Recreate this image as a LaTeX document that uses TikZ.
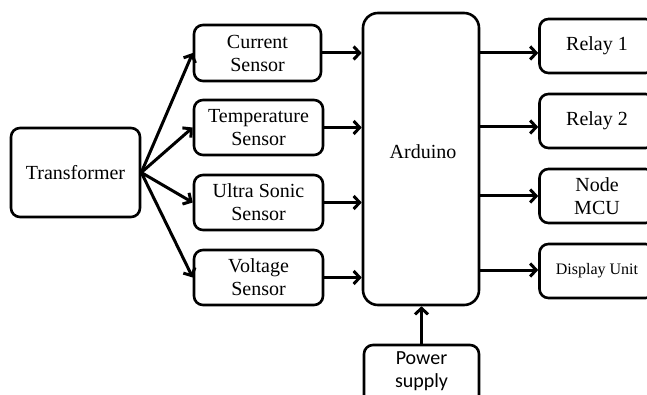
\documentclass[tikz,border=0pt]{standalone}
\usepackage{fontspec}
\setmainfont{Liberation Serif}
\newfontfamily\psfont{Carlito}
\usetikzlibrary{arrows.meta,calc}
\begin{document}
\begin{tikzpicture}[x=1pt,y=-1pt,
  box/.style={draw, line width=2.6pt, rounded corners=9pt, align=center, inner sep=0pt,
    font=\fontsize{20}{23}\selectfont},
  arr/.style={line width=3pt, -{Straight Barb[length=6pt,width=13pt]}}]
\useasboundingbox (0,0) rectangle (647,395);
\clip (0,0) rectangle (647,395);
\fill[white] (0,0) rectangle (647,395);
% boxes
\node[box, minimum width=129, minimum height=89] (tr) at (75.5,172.5) {Transformer};
\node[box, minimum width=127, minimum height=56] (cs) at (257.5,53) {Current\\Sensor};
\node[box, minimum width=129, minimum height=55] (ts) at (258.5,127.5) {Temperature\\Sensor};
\node[box, minimum width=129, minimum height=55] (us) at (258.5,202.5) {Ultra Sonic\\Sensor};
\node[box, minimum width=129, minimum height=55] (vs) at (258.5,277.5) {Voltage\\Sensor};
\node[box, minimum width=116, minimum height=292, rounded corners=15pt] (ard) at (421,159) {};
\node[font=\fontsize{20}{23}\selectfont] (ardt) at (423,152) {Arduino};
\node[box, minimum width=115, minimum height=54] (r1) at (597,46) {Relay 1};
\node[box, minimum width=115, minimum height=54] (r2) at (597,121) {Relay 2};
\node[box, minimum width=115, minimum height=54] (nm) at (597,196) {Node\\MCU};
\node[box, minimum width=115, minimum height=54, font=\fontsize{16}{19}\selectfont] (du) at (597,271) {Display Unit};
\node[box, minimum width=115, minimum height=60] (ps) at (421.5,375) {};
\node[font=\psfont\fontsize{20}{23}\selectfont, align=center] (pst) at (421.5,371) {Power\\supply};
% transformer to sensors
\draw[arr] (tr.east) -- (cs.west);
\draw[arr] (tr.east) -- (ts.west);
\draw[arr] (tr.east) -- (us.west);
\draw[arr] (tr.east) -- (vs.west);
% sensors to arduino
\draw[arr] (cs.east) -- (cs.east -| ard.west);
\draw[arr] (ts.east) -- (ts.east -| ard.west);
\draw[arr] (us.east) -- (us.east -| ard.west);
\draw[arr] (vs.east) -- (vs.east -| ard.west);
% arduino to outputs
\coordinate (o1) at (0,53);
\coordinate (o2) at (0,127);
\coordinate (o3) at (0,196);
\coordinate (o4) at (0,270);
\draw[arr] (ard.east |- o1) -- (r1.west |- o1);
\draw[arr] (ard.east |- o2) -- (r2.west |- o2);
\draw[arr] (ard.east |- o3) -- (nm.west |- o3);
\draw[arr] (ard.east |- o4) -- (du.west |- o4);
% power supply
\draw[arr] (ps.north) -- (ps.north |- ard.south);
\end{tikzpicture}
\end{document}
